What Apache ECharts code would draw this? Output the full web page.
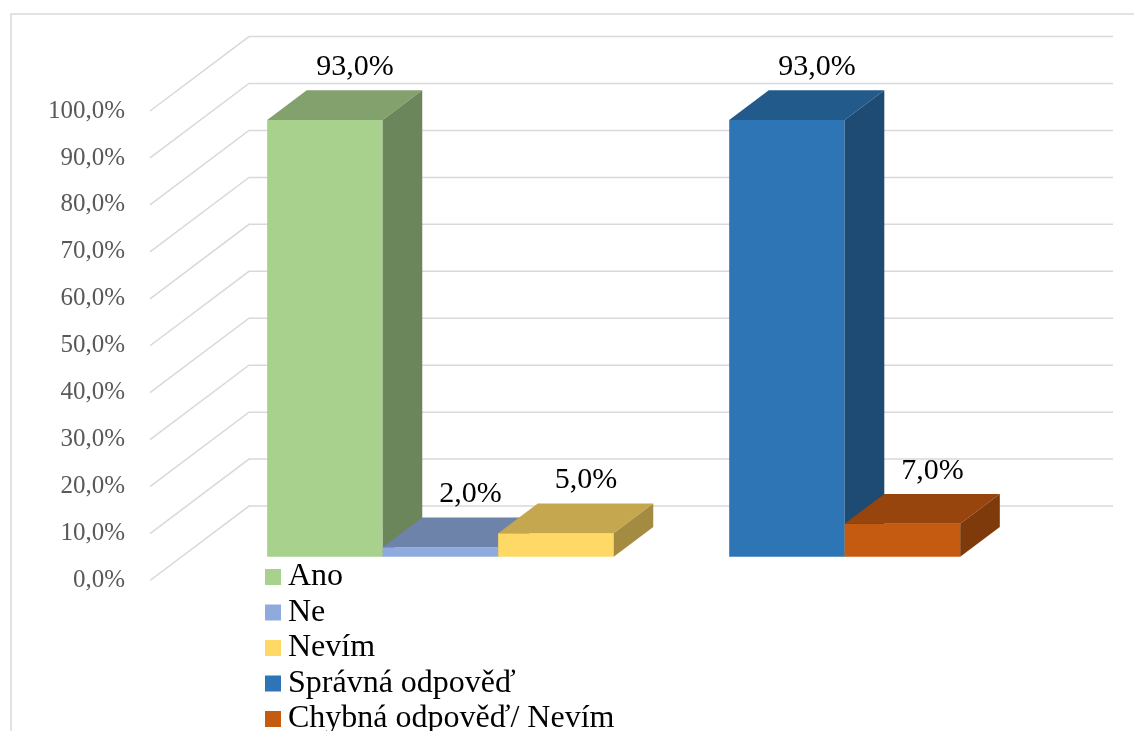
<!DOCTYPE html>
<html>
<head>
<meta charset="utf-8">
<script src="https://cdn.jsdelivr.net/npm/echarts@6/dist/echarts.min.js"></script>
<style>
  html, body { margin: 0; padding: 0; background: #ffffff; }
  #chart { width: 1134px; height: 731px; }
</style>
</head>
<body>
<div id="chart"></div>
<script>
// Answer shares per series (percent)
const seriesNames = ['Ano', 'Ne', 'Nevím', 'Správná odpověď', 'Chybná odpověď/ Nevím'];
const seriesValues = [93, 2, 5, 93, 7];
// Cluster each series belongs to (clusters are separated by one empty slot)
const seriesClusters = [0, 0, 0, 1, 1];
const frontColors = ['#A9D18E', '#8FAADC', '#FFD966', '#2E75B6', '#C55A11'];
// Value-axis ticks
const yTicks = [0, 10, 20, 30, 40, 50, 60, 70, 80, 90, 100];

const FONT = '"Liberation Serif", "Times New Roman", serif';

// Oblique depth of the chart box, in axis units (slots, percent)
const DEPTH_X = 0.857;
const DEPTH_Y = 15.86;
// Bars sit between these depth fractions of the box
const BAR_F0 = 0.32;
const BAR_F1 = 0.72;
const X_MIN = -0.74;
const X_MAX = 6.74;

function shade(hex, k) {
  const n = parseInt(hex.slice(1), 16);
  const r = Math.round(((n >> 16) & 255) * k);
  const g = Math.round(((n >> 8) & 255) * k);
  const b = Math.round((n & 255) * k);
  return 'rgb(' + r + ',' + g + ',' + b + ')';
}

function fmtPct(v) {
  return v.toFixed(1).replace('.', ',') + '%';
}

// slot index of each bar along the x axis
const slots = seriesNames.map((_, i) => i + seriesClusters[i]);

function makePoint(api) {
  return (x, y, f) => api.coord([x + f * DEPTH_X, y + f * DEPTH_Y]);
}

const gridSeries = {
  type: 'custom',
  name: 'grid',
  silent: true,
  clip: false,
  z: 1,
  data: yTicks.map(v => [0, v]),
  renderItem: function (params, api) {
    const p = makePoint(api);
    const v = api.value(1);
    return {
      type: 'polyline',
      shape: { points: [p(X_MIN, v, 0), p(X_MIN, v, 1), p(X_MAX, v, 1)] },
      style: { stroke: '#D9D9D9', lineWidth: 1.5, fill: null }
    };
  }
};

const barSeries = seriesNames.map((name, i) => ({
  type: 'custom',
  name: name,
  clip: false,
  z: 2,
  itemStyle: { color: frontColors[i] },
  data: [[slots[i], seriesValues[i]]],
  renderItem: function (params, api) {
    const p = makePoint(api);
    const x0 = api.value(0);
    const v = api.value(1);
    const c = frontColors[i];
    const lt = p(x0, v, BAR_F0);
    const lb = p(x0, 0, BAR_F0);
    const rt = p(x0 + 1, v, BAR_F0);
    const rb = p(x0 + 1, 0, BAR_F0);
    const blt = p(x0, v, BAR_F1);
    const brt = p(x0 + 1, v, BAR_F1);
    const brb = p(x0 + 1, 0, BAR_F1);
    const mid = p(x0 + 0.5, v, BAR_F0);
    const back = p(x0 + 0.5, v, BAR_F1);
    return {
      type: 'group',
      children: [
        { type: 'polygon', shape: { points: [lb, rb, rt, lt] }, style: { fill: c } },
        { type: 'polygon', shape: { points: [lt, rt, brt, blt] }, style: { fill: shade(c, 0.77) } },
        { type: 'polygon', shape: { points: [rb, rt, brt, brb] }, style: { fill: shade(c, 0.64) } },
        {
          type: 'text',
          x: mid[0] + 30,
          y: back[1] - 23,
          style: {
            text: fmtPct(v),
            font: '30px ' + FONT,
            fill: '#000000',
            align: 'center',
            verticalAlign: 'middle'
          }
        }
      ]
    };
  }
}));

const chart = echarts.init(document.getElementById('chart'), null, { renderer: 'canvas' });
chart.setOption({
  animation: false,
  backgroundColor: '#ffffff',
  graphic: [{
    type: 'rect',
    silent: true,
    shape: { x: 11, y: 14, width: 1200, height: 800 },
    style: { fill: null, stroke: '#D9D9D9', lineWidth: 1.5 }
  }],
  grid: { left: 150, right: 120, top: 111, bottom: 150.5 },
  xAxis: {
    type: 'value', min: X_MIN, max: X_MAX, show: false
  },
  yAxis: {
    type: 'value', min: 0, max: 100, interval: 10,
    axisLine: { show: false }, axisTick: { show: false }, splitLine: { show: false },
    axisLabel: {
      margin: 25,
      color: '#595959',
      fontFamily: FONT,
      fontSize: 25,
      formatter: v => fmtPct(v)
    }
  },
  legend: {
    data: seriesNames,
    orient: 'vertical',
    left: 265,
    top: 561,
    height: 400,
    padding: 0,
    itemWidth: 16,
    itemHeight: 16,
    itemGap: 3.5,
    icon: 'rect',
    selectedMode: false,
    textStyle: { fontFamily: FONT, fontSize: 32, color: '#000000', lineHeight: 32, padding: [0, 0, 0, 2] }
  },
  series: [gridSeries].concat(barSeries)
});
</script>
</body>
</html>
